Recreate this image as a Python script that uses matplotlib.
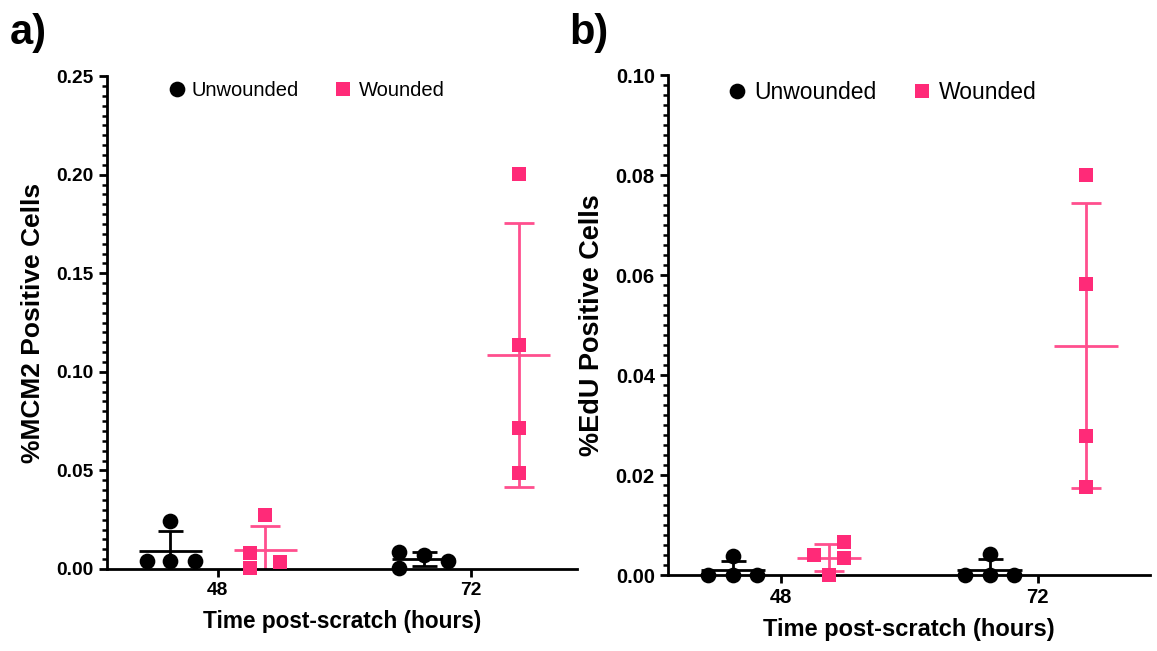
import numpy as np
import matplotlib.pyplot as plt
from matplotlib.ticker import MultipleLocator

plt.rcParams['font.family'] = ['Liberation Sans', 'DejaVu Sans']

# time points (hours) and per-group replicate values
tijd = [48, 72]

mcm2_onbeseer = [[0.004, 0.004, 0.004, 0.0243], [0.0086, 0.0005, 0.0071, 0.004]]
mcm2_beseer = [[0.0081, 0.0005, 0.0274, 0.0035], [0.2003, 0.1136, 0.0715, 0.0487]]

edu_onbeseer = [[0.0, 0.0, 0.0, 0.0038], [0.0, 0.0, 0.0, 0.0043]]
edu_beseer = [[0.004, 0.0, 0.0066, 0.0034], [0.080, 0.0582, 0.0278, 0.0176]]

# horizontal scatter spread of the replicates (hours)
sprei_a_onb = [[-2.2, 0, 2.3, 0], [-2.3, -2.3, 0, 2.3]]
sprei_a_bes = [[-1.5, -1.5, 0, 1.4], [0, 0, 0, 0]]
sprei_b_onb = [[-2.3, 0, 2.3, 0], [-2.3, 0, 2.3, 0]]
sprei_b_bes = [[-1.4, 0, 1.4, 1.4], [0, 0, 0, 0]]

swart = 'black'
pienk = '#ff2a78'
pienk_lyn = '#ff4f8e'
skuif = 4.5


def groep(ax, x, waardes, sprei, kleur, lynkleur, merker, ms, kap):
    w = np.array(waardes)
    gem = w.mean()
    sa = w.std(ddof=1)
    ax.hlines(gem, x - 3.0, x + 3.0, color=lynkleur, lw=2, zorder=2)
    ax.errorbar([x], [gem], yerr=[[sa], [sa]], fmt='none', ecolor=lynkleur,
                elinewidth=2, capsize=kap, capthick=2, zorder=2)
    return ax.plot(x + np.array(sprei), w, linestyle='none', marker=merker,
                   color=kleur, markersize=ms, markeredgewidth=0, zorder=3,
                   clip_on=False)[0]


def paneel(ax, onb, bes, sp_onb, sp_bes, ymax, majeur, mineur, ylabel, fs, yfs):
    for i, t in enumerate(tijd):
        h1 = groep(ax, t - skuif, onb[i], sp_onb[i], swart, swart, 'o', 11.3, 9)
        h2 = groep(ax, t + skuif, bes[i], sp_bes[i], pienk, pienk_lyn, 's', 10.5, 11)
    ax.set_ylim(0, ymax)
    ax.yaxis.set_major_locator(MultipleLocator(majeur))
    ax.yaxis.set_minor_locator(MultipleLocator(mineur))
    ax.set_xticks(tijd)
    ax.spines[['top', 'right']].set_visible(False)
    ax.spines[['left', 'bottom']].set_linewidth(2)
    ax.tick_params(axis='both', which='major', width=2, length=6, labelsize=fs)
    ax.tick_params(axis='y', which='minor', width=1.8, length=3.5)
    for lb in ax.get_xticklabels() + ax.get_yticklabels():
        lb.set_fontweight('bold')
    ax.set_xlabel('Time post-scratch (hours)', fontsize=fs + 2.5,
                  fontweight='bold', labelpad=8)
    ax.set_ylabel(ylabel, fontsize=yfs, fontweight='bold', labelpad=8)
    return h1, h2


fig = plt.figure(figsize=(11.57, 6.51), dpi=100)

ax1 = fig.add_axes([0.0925, 0.126, 0.406, 0.757])
ax1.set_xlim(37.5, 82.0)
h1, h2 = paneel(ax1, mcm2_onbeseer, mcm2_beseer, sprei_a_onb, sprei_a_bes,
                0.25, 0.05, 0.005, '%MCM2 Positive Cells', 13.8, 19)
ax1.yaxis.set_major_formatter(lambda v, p: f'{v:.2f}')
ax1.legend([h1, h2], ['Unwounded', 'Wounded'], ncol=2, frameon=False,
           loc='center left', bbox_to_anchor=(0.11, 0.97), fontsize=14.5,
           handletextpad=0.25, columnspacing=1.7, handlelength=1.0,
           borderaxespad=0)

ax2 = fig.add_axes([0.5774, 0.1167, 0.4166, 0.768])
ax2.set_xlim(37.45, 82.5)
h1, h2 = paneel(ax2, edu_onbeseer, edu_beseer, sprei_b_onb, sprei_b_bes,
                0.10, 0.02, 0.002, '%EdU Positive Cells', 14.5, 19.5)
ax2.yaxis.set_major_formatter(lambda v, p: f'{v:.2f}')
ax2.legend([h1, h2], ['Unwounded', 'Wounded'], ncol=2, frameon=False,
           loc='center left', bbox_to_anchor=(0.1, 0.965), fontsize=16.5,
           handletextpad=0.25, columnspacing=1.5, handlelength=1.0,
           borderaxespad=0)

fig.text(0.008, 0.98, 'a)', fontsize=30, fontweight='bold', va='top')
fig.text(0.492, 0.98, 'b)', fontsize=30, fontweight='bold', va='top')

plt.savefig('out.png', dpi=100)
